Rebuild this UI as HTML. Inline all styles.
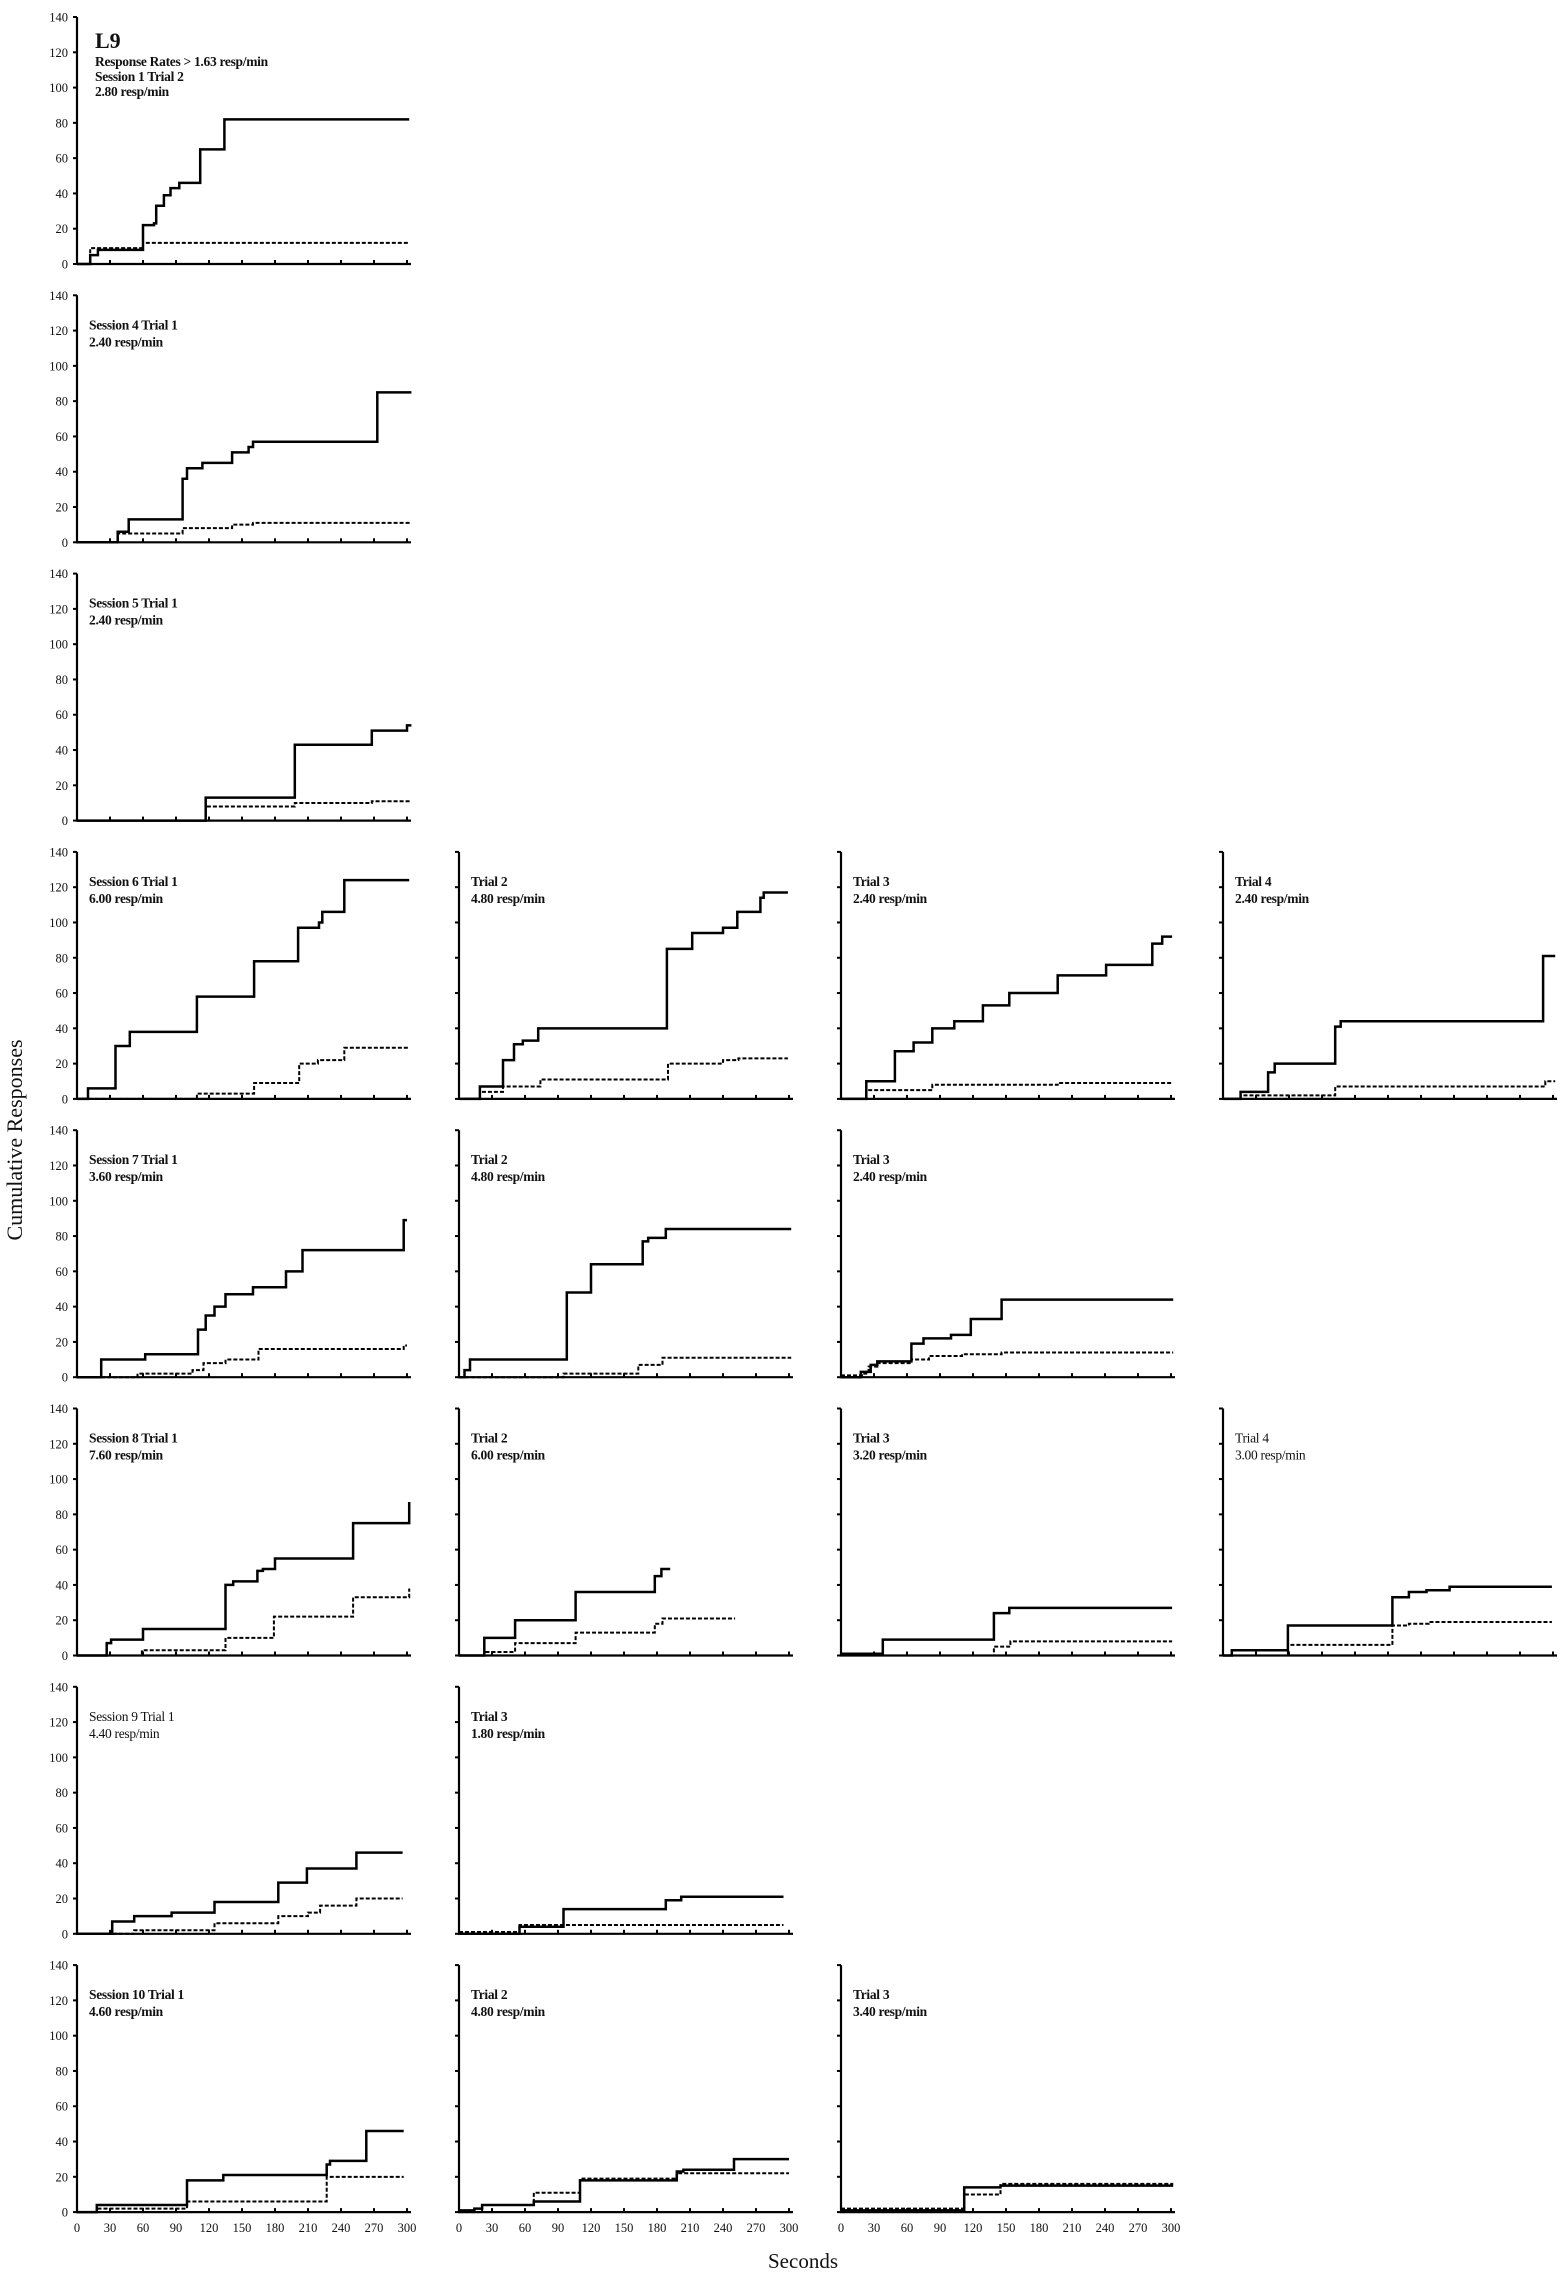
<!DOCTYPE html>
<html><head><meta charset="utf-8">
<style>
html,body{margin:0;padding:0;background:#fff;}
svg{display:block;}
text{font-family:"Liberation Serif",serif;fill:#111;}
.lbl{font-weight:bold;font-size:13.5px;letter-spacing:-0.3px;}
.lbln{font-size:13.5px;letter-spacing:-0.3px;}
.tick{font-size:12.5px;}
</style></head>
<body>
<svg id="chart" width="1567" height="2282" viewBox="0 0 1567 2282" xmlns="http://www.w3.org/2000/svg">
<text x="0" y="0" transform="translate(22,1140) rotate(-90)" text-anchor="middle" font-size="22">Cumulative  Responses</text>
<text x="803" y="2268" text-anchor="middle" font-size="21">Seconds</text>
</svg>
<script>
const yTicks = [0,20,40,60,80,100,120,140];
const xTicks = [0,30,60,90,120,150,180,210,240,270,300];

const s1t2Solid = [[0,0],[12,5],[19,8],[60,22],[70,23],[72,33],[79,39],[85,43],[93,46],[112,65],[134,82],[302,82]];
const s1t2Dash = [[0,0],[12,9],[60,12],[302,12]];
const s4t1Solid = [[0,0],[37,6],[47,13],[96,36],[100,42],[114,45],[141,51],[156,54],[160,57],[273,85],[304,85]];
const s4t1Dash = [[0,0],[37,5],[96,8],[141,10],[160,11],[304,11]];
const s5t1Solid = [[0,0],[117,13],[198,43],[268,51],[300,54],[304,54]];
const s5t1Dash = [[0,0],[117,8],[198,10],[268,11],[304,11]];
const s6t1Solid = [[0,0],[10,6],[35,30],[48,38],[109,58],[161,78],[201,97],[220,100],[223,106],[243,124],[302,124]];
const s6t1Dash = [[0,0],[109,3],[161,9],[202,20],[219,22],[243,29],[302,29]];
const s6t2Solid = [[0,0],[19,7],[40,22],[50,31],[58,33],[72,40],[189,85],[212,94],[240,97],[253,106],[274,114],[277,117],[299,117]];
const s6t2Dash = [[0,0],[19,4],[40,7],[74,11],[190,20],[240,22],[254,23],[299,23]];
const s6t3Solid = [[0,0],[23,10],[49,27],[66,32],[83,40],[103,44],[129,53],[153,60],[197,70],[241,76],[283,88],[292,92],[301,92]];
const s6t3Dash = [[0,0],[23,5],[83,8],[197,9],[301,9]];
const s6t4Solid = [[0,0],[16,4],[41,15],[47,20],[102,41],[107,44],[291,81],[302,81]];
const s6t4Dash = [[0,0],[16,2],[102,7],[293,10],[302,10]];
const s7t1Solid = [[0,0],[22,10],[62,13],[110,27],[117,35],[125,40],[135,47],[160,51],[190,60],[205,72],[297,89],[300,89]];
const s7t1Dash = [[0,0],[55,2],[105,4],[115,8],[135,10],[165,16],[297,18],[300,18]];
const s7t2Solid = [[0,0],[5,4],[10,10],[98,48],[120,64],[167,77],[172,79],[188,84],[302,84]];
const s7t2Dash = [[0,0],[95,2],[163,7],[185,11],[302,11]];
const s7t3Solid = [[0,0],[18,3],[27,7],[33,9],[64,19],[75,22],[100,24],[118,33],[146,44],[302,44]];
const s7t3Dash = [[0,1],[20,2],[25,6],[33,8],[64,10],[80,12],[110,13],[146,14],[302,14]];
const s8t1Solid = [[0,0],[27,7],[31,9],[60,15],[135,40],[142,42],[164,48],[169,49],[180,55],[251,75],[302,87]];
const s8t1Dash = [[0,0],[59,3],[135,10],[179,22],[251,33],[302,38]];
const s8t2Solid = [[0,0],[23,10],[51,20],[106,36],[178,45],[184,49],[192,49]];
const s8t2Dash = [[0,0],[23,2],[51,7],[106,13],[178,18],[185,21],[251,21]];
const s8t3Solid = [[0,1],[38,9],[139,24],[153,27],[301,27]];
const s8t3Dash = [[0,0],[139,5],[154,8],[301,8]];
const s8t4Solid = [[0,0],[8,3],[59,17],[154,33],[169,36],[185,37],[206,39],[299,39]];
const s8t4Dash = [[0,0],[59,6],[154,17],[169,18],[187,19],[299,19]];
const s9t1Solid = [[0,0],[32,7],[52,10],[86,12],[125,18],[183,29],[209,37],[254,46],[296,46]];
const s9t1Dash = [[0,0],[52,2],[125,6],[183,10],[210,12],[221,16],[254,20],[296,20]];
const s9t3Solid = [[0,0],[55,4],[95,14],[188,19],[202,21],[295,21]];
const s9t3Dash = [[0,1],[55,5],[295,5]];
const s10t1Solid = [[0,0],[18,4],[100,18],[133,21],[227,27],[230,29],[263,46],[297,46]];
const s10t1Dash = [[0,0],[18,2],[100,6],[227,20],[297,20]];
const s10t2Solid = [[0,1],[14,2],[21,4],[68,6],[110,18],[198,23],[204,24],[250,30],[300,30]];
const s10t2Dash = [[0,0],[21,4],[68,11],[110,19],[198,22],[300,22]];
const s10t3Solid = [[0,1],[112,14],[145,15],[302,15]];
const s10t3Dash = [[0,2],[112,10],[145,16],[302,16]];

const panels = [
 {id:'s1t2',row:0,col:0,solid:s1t2Solid,dash:s1t2Dash,lines:['Response Rates > 1.63 resp/min','Session 1 Trial   2','2.80 resp/min'],big:'L9'},
 {id:'s4t1',row:1,col:0,solid:s4t1Solid,dash:s4t1Dash,lines:['Session 4 Trial   1','2.40 resp/min']},
 {id:'s5t1',row:2,col:0,solid:s5t1Solid,dash:s5t1Dash,lines:['Session 5 Trial   1','2.40 resp/min']},
 {id:'s6t1',row:3,col:0,solid:s6t1Solid,dash:s6t1Dash,lines:['Session 6 Trial   1','6.00 resp/min']},
 {id:'s6t2',row:3,col:1,solid:s6t2Solid,dash:s6t2Dash,lines:['Trial  2','4.80 resp/min']},
 {id:'s6t3',row:3,col:2,solid:s6t3Solid,dash:s6t3Dash,lines:['Trial  3','2.40 resp/min']},
 {id:'s6t4',row:3,col:3,solid:s6t4Solid,dash:s6t4Dash,lines:['Trial  4','2.40 resp/min']},
 {id:'s7t1',row:4,col:0,solid:s7t1Solid,dash:s7t1Dash,lines:['Session 7  Trial 1','3.60 resp/min']},
 {id:'s7t2',row:4,col:1,solid:s7t2Solid,dash:s7t2Dash,lines:['Trial 2','4.80 resp/min']},
 {id:'s7t3',row:4,col:2,solid:s7t3Solid,dash:s7t3Dash,lines:['Trial 3','2.40 resp/min']},
 {id:'s8t1',row:5,col:0,solid:s8t1Solid,dash:s8t1Dash,lines:['Session 8  Trial 1','7.60 resp/min']},
 {id:'s8t2',row:5,col:1,solid:s8t2Solid,dash:s8t2Dash,lines:['Trial 2','6.00 resp/min']},
 {id:'s8t3',row:5,col:2,solid:s8t3Solid,dash:s8t3Dash,lines:['Trial 3','3.20 resp/min']},
 {id:'s8t4',row:5,col:3,solid:s8t4Solid,dash:s8t4Dash,lines:['Trial 4','3.00 resp/min'],normal:true},
 {id:'s9t1',row:6,col:0,solid:s9t1Solid,dash:s9t1Dash,lines:['Session 9  Trial 1','4.40 resp/min'],normal:true},
 {id:'s9t3',row:6,col:1,solid:s9t3Solid,dash:s9t3Dash,lines:['Trial 3','1.80 resp/min']},
 {id:'s10t1',row:7,col:0,solid:s10t1Solid,dash:s10t1Dash,lines:['Session 10 Trial 1','4.60 resp/min'],xlabels:true},
 {id:'s10t2',row:7,col:1,solid:s10t2Solid,dash:s10t2Dash,lines:['Trial 2','4.80 resp/min'],xlabels:true},
 {id:'s10t3',row:7,col:2,solid:s10t3Solid,dash:s10t3Dash,lines:['Trial 3','3.40 resp/min'],xlabels:true}
];

const NS='http://www.w3.org/2000/svg';
const svg=document.getElementById('chart');
const H=247, W=330;
function mk(tag,attrs,parent){const e=document.createElementNS(NS,tag);for(const k in attrs)e.setAttribute(k,attrs[k]);(parent||svg).appendChild(e);return e;}

panels.forEach(p=>{
  const x0=77+p.col*382, top=17+p.row*278.3, zero=top+H;
  const xs=t=>x0+t*W/300;
  const ys=v=>zero-v*H/140;
  const g=mk('g',{});
  
  
  const ax=mk('path',{d:`M${x0},${top} L${x0},${zero} L${xs(300)+4},${zero}`,fill:'none',stroke:'#000','stroke-width':2.2},g);
  
  
  yTicks.forEach(v=>{
    mk('line',{x1:x0-4,x2:x0,y1:ys(v),y2:ys(v),stroke:'#000','stroke-width':2},g);
    if(p.col===0){
      const t=mk('text',{x:x0-9,y:ys(v)+4.5,'text-anchor':'end',class:'tick'},g);
      
      
      t.textContent=v;
    }
  });
  xTicks.forEach(v=>{
    mk('line',{x1:xs(v),x2:xs(v),y1:zero-4,y2:zero,stroke:'#000','stroke-width':2},g);
    if(p.xlabels){
      const t=mk('text',{x:xs(v),y:zero+20,'text-anchor':'middle',class:'tick'},g);
      
      
      t.textContent=v;
    }
  });
  function stepPath(pts){
    let d=`M${xs(pts[0][0])},${ys(pts[0][1])}`;
    for(let i=1;i<pts.length;i++){d+=` L${xs(pts[i][0])},${ys(pts[i-1][1])} L${xs(pts[i][0])},${ys(pts[i][1])}`;}
    return d;
  }
  const dl=mk('path',{d:stepPath(p.dash),fill:'none',stroke:'#000','stroke-width':2,'stroke-dasharray':'4 2'},g);
  
  
  const sl=mk('path',{d:stepPath(p.solid),fill:'none',stroke:'#000','stroke-width':2.5},g);
  
  
  let ly=top+34, lx=x0+12;
  if(p.big){
    lx=x0+18;
    const b=mk('text',{x:lx,y:top+31,'font-size':'22','font-weight':'bold'},g);
    
    
    b.textContent=p.big;
    ly=top+49;
  }
  p.lines.forEach((s,i)=>{
    const t=mk('text',{x:lx,y:ly+i*(p.big?15:17),class:p.normal?'lbln':'lbl'},g);
    
    
    t.textContent=s;
  });
});
</script>
</body></html>
